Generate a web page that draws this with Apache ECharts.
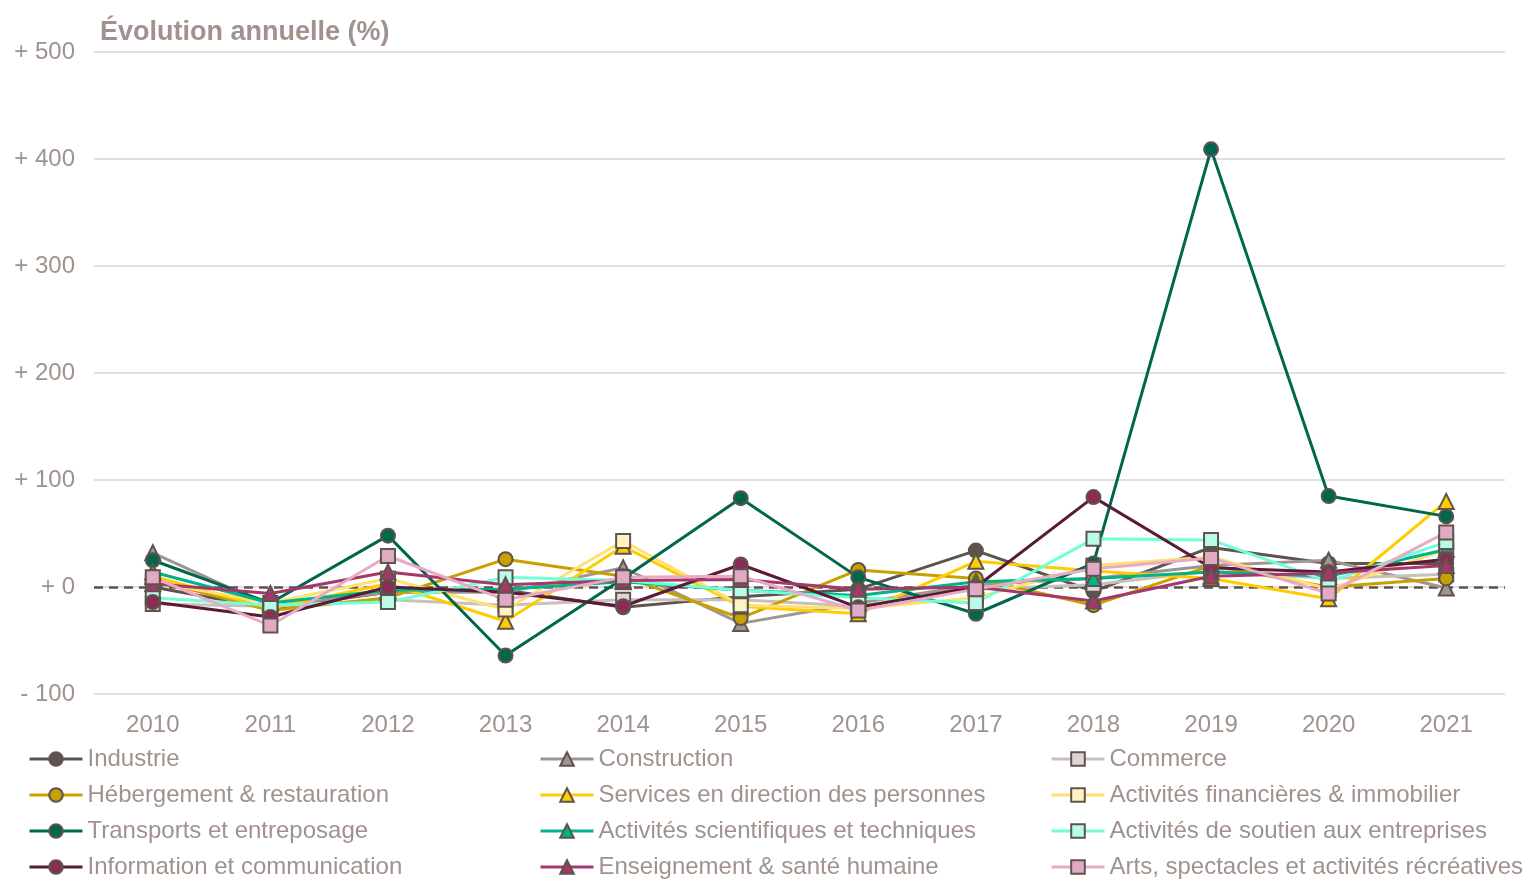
<!DOCTYPE html>
<html><head><meta charset="utf-8">
<script src="https://cdn.jsdelivr.net/npm/echarts@6/dist/echarts.min.js"></script>
<style>html,body{margin:0;padding:0;background:#fff}#c{width:1525px;height:879px}</style>
</head><body><div id="c"></div>
<script>
const years = ['2010','2011','2012','2013','2014','2015','2016','2017','2018','2019','2020','2021'];
const yTicks = [-100, 0, 100, 200, 300, 400, 500];

const industrie      = [0, -20, -5, -3, -19, -9, -2, 34, -4, 37, 22, 22];
const construction   = [32, -18, -5, -5, 18, -34, -15, 2, 8, 20, 25, -1];
const commerce       = [-16, -18, -12, -17, -12, -12, -18, -2, 2, 15, 8, 12];
const hebergement    = [7, -22, -10, 26, 10, -29, 16, 8, -17, 20, 0, 8];
const services       = [10, -20, 3, -32, 38, -18, -25, 24, 15, 8, -11, 80];
const financieres    = [5, -15, 8, -21, 43, -17, -20, -10, 20, 28, -2, 35];
const transports     = [25, -15, 48, -64, 8, 83, 9, -25, 22, 409, 85, 66];
const scientifiques  = [14, -15, -3, -2, 5, -3, -8, 5, 8, 14, 10, 35];
const soutien        = [-10, -17, -14, 9, 6, -3, -10, -15, 45, 44, 5, 42];
const information    = [-14, -28, 0, -5, -18, 21, -19, 0, 84, 18, 14, 26];
const enseignement   = [3, -6, 14, 2, 6, 7, -2, 0, -13, 10, 13, 20];
const arts           = [9, -36, 29, -12, 9, 10, -22, -2, 17, 27, -6, 51];

const defs = [
  ['Industrie', industrie, 'circle', '#5f534e', '#5f534e'],
  ['Construction', construction, 'triangle', '#a0958f', '#a0958f'],
  ['Commerce', commerce, 'rect', '#c8c0bc', '#ddd6d4'],
  ['Hébergement & restauration', hebergement, 'circle', '#c8a000', '#c8a000'],
  ['Services en direction des personnes', services, 'triangle', '#ffcc00', '#ffcc00'],
  ['Activités financières & immobilier', financieres, 'rect', '#ffe070', '#fff3c4'],
  ['Transports et entreposage', transports, 'circle', '#00674e', '#00674e'],
  ['Activités scientifiques et techniques', scientifiques, 'triangle', '#00b38a', '#00b38a'],
  ['Activités de soutien aux entreprises', soutien, 'rect', '#70ffd8', '#b8fbe6'],
  ['Information et communication', information, 'circle', '#5b1a35', '#8a2c55'],
  ['Enseignement & santé humaine', enseignement, 'triangle', '#a5386a', '#a5386a'],
  ['Arts, spectacles et activités récréatives', arts, 'rect', '#e8aac6', '#e0a9c4']
];

const txt = '#a0928c';
const series = defs.map((d, i) => {
  const s = {
    name: d[0], type: 'line', data: d[1], symbol: d[2],
    symbolSize: d[2] === 'triangle' ? 15 : 14,
    lineStyle: { color: d[3], width: 3 },
    itemStyle: { color: d[4], borderColor: '#5f534e', borderWidth: 2 },
    emphasis: { disabled: true }, animation: false
  };
  if (i === 0) {
    s.markLine = { silent: true, symbol: 'none', label: { show: false },
      lineStyle: { color: '#5f534e', type: [9, 6], width: 2.5 },
      data: [{ yAxis: 0 }], animation: false, z: 1 };
  }
  return s;
});

function legendCol(idx, left) {
  return {
    orient: 'vertical', left: left, top: 747, height: 140, padding: 0,
    itemWidth: 53, itemHeight: 17, itemGap: 12,
    lineStyle: { width: 3 },
    data: idx.map(i => defs[i][0]),
    textStyle: { color: txt, fontSize: 24, fontFamily: 'Liberation Sans, Arial, sans-serif', lineHeight: 24 },
    selectedMode: false
  };
}

const chart = echarts.init(document.getElementById('c'), null, { renderer: 'canvas' });
chart.setOption({
  animation: false,
  backgroundColor: '#ffffff',
  title: { text: 'Évolution annuelle (%)', left: 95, top: 14,
    textStyle: { color: txt, fontSize: 27, fontWeight: 'bold', fontFamily: 'Liberation Sans, Arial, sans-serif' } },
  grid: { left: 94, right: 20, top: 52, bottom: 185, containLabel: false },
  legend: [legendCol([0,3,6,9], 28), legendCol([1,4,7,10], 539), legendCol([2,5,8,11], 1050)],
  xAxis: { type: 'category', data: years, boundaryGap: true,
    axisLine: { show: false }, axisTick: { show: false },
    axisLabel: { color: txt, fontSize: 24, margin: 19, fontFamily: 'Liberation Sans, Arial, sans-serif' } },
  yAxis: { type: 'value', min: yTicks[0], max: yTicks[yTicks.length-1], interval: 100,
    axisLine: { show: false }, axisTick: { show: false },
    splitLine: { lineStyle: { color: '#e3dfdf', width: 2 } },
    axisLabel: { color: txt, fontSize: 24, margin: 19, fontFamily: 'Liberation Sans, Arial, sans-serif',
      formatter: v => v > 0 ? '+ ' + v : (v === 0 ? '+ 0' : '- ' + Math.abs(v)) } },
  series: series
});
</script></body></html>
